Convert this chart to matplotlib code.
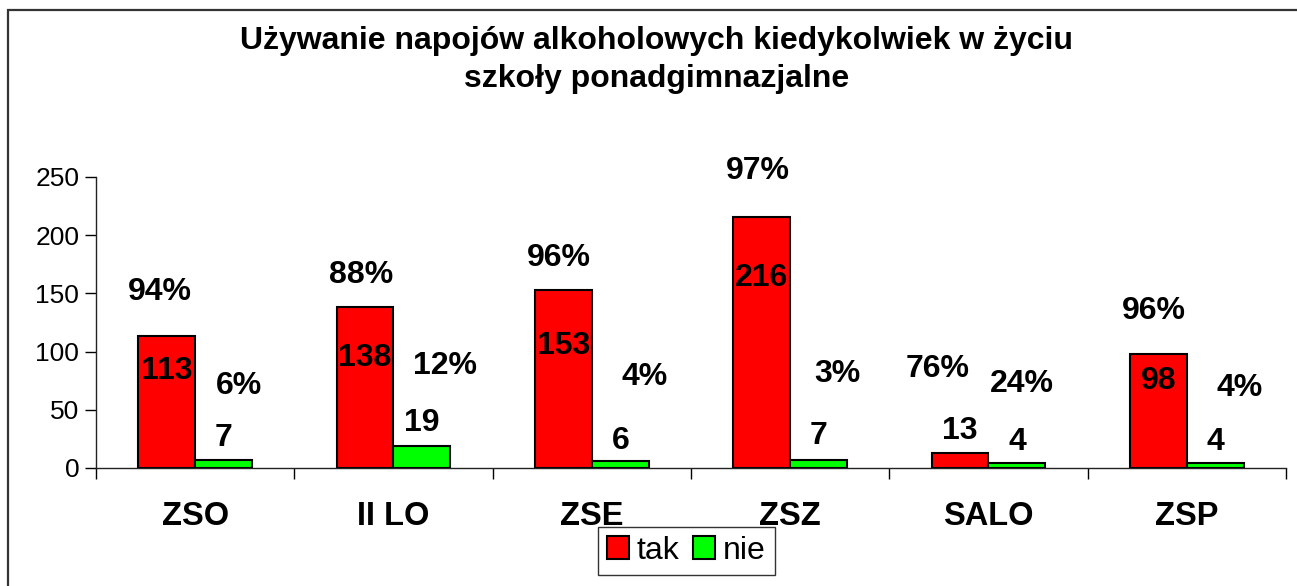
import numpy as np
import matplotlib.pyplot as plt
from matplotlib.patches import Rectangle

# ==========================================================
# Dane
# ==========================================================

szkoly = ["ZSO", "II LO", "ZSE", "ZSZ", "SALO", "ZSP"]
tak = [113, 138, 153, 216, 13, 98]
nie = [7, 19, 6, 7, 4, 4]
proc_tak = ["94%", "88%", "96%", "97%", "76%", "96%"]
proc_nie = ["6%", "12%", "4%", "3%", "24%", "4%"]

y_lab_tak = [83, 94.5, 104.5, 163.5, 32, 74.5]
y_lab_nie = [26, 39, 23, 27.5, 22.5, 22.5]
x_proc_tak = [-0.180, 0.838, 1.833, 2.838, 3.742, 4.835]
y_proc_tak = [151, 166, 180, 255, 85, 135]
x_proc_nie = [0.223, 1.261, 2.268, 3.238, 4.170, 5.266]
y_proc_nie = [70.5, 87.5, 78.5, 81, 72.5, 68.5]

plt.rcParams["font.family"] = ["Liberation Sans", "DejaVu Sans"]

fig = plt.figure(figsize=(12.97, 5.86), dpi=100)
ax = fig.add_axes([0.074, 0.2014, 0.9175, 0.4966])

x = np.arange(len(szkoly))
w = 0.287

ax.bar(x - w / 2, tak, w, color="#ff0000", edgecolor="black",
       linewidth=1.5, label="tak")
ax.bar(x + w / 2, nie, w, color="#00ff00", edgecolor="black",
       linewidth=1.5, label="nie")

fs = 23
for i in range(len(szkoly)):
    ax.text(x[i] - w / 2, y_lab_tak[i], str(tak[i]), ha="center",
            va="center", fontsize=fs, fontweight="bold")
    ax.text(x[i] + w / 2, y_lab_nie[i], str(nie[i]), ha="center",
            va="center", fontsize=fs, fontweight="bold")
    ax.text(x_proc_tak[i], y_proc_tak[i], proc_tak[i], ha="center",
            va="center", fontsize=fs, fontweight="bold")
    ax.text(x_proc_nie[i], y_proc_nie[i], proc_nie[i], ha="center",
            va="center", fontsize=fs, fontweight="bold")

ax.set_xlim(-0.5, len(szkoly) - 0.5)
ax.set_ylim(0, 250)
ax.set_yticks(np.arange(0, 251, 50))
ax.tick_params(axis="y", labelsize=19, length=8, width=1, direction="out",
               pad=4)

ax.set_xticks(x)
ax.set_xticklabels(szkoly, fontsize=23.5, fontweight="bold")
ax.tick_params(axis="x", which="major", length=0, pad=24)
ax.set_xticks(np.arange(-0.5, len(szkoly)), minor=True)
ax.tick_params(axis="x", which="minor", length=8, width=1, direction="out")

for s in ["top", "right"]:
    ax.spines[s].set_visible(False)
for s in ["left", "bottom"]:
    ax.spines[s].set_color("#222222")
    ax.spines[s].set_linewidth(1)

fig.text(0.506, 0.930, "Używanie napojów alkoholowych kiedykolwiek w życiu",
         ha="center", va="center", fontsize=23, fontweight="bold")
fig.text(0.506, 0.865, "szkoły ponadgimnazjalne",
         ha="center", va="center", fontsize=23, fontweight="bold")

leg = ax.legend(loc="center", bbox_to_anchor=(0.529, 0.06),
                bbox_transform=fig.transFigure, ncol=2, fontsize=23,
                frameon=True, fancybox=False, handlelength=0.7,
                handleheight=0.7, handletextpad=0.25, columnspacing=0.4,
                borderpad=0.28, borderaxespad=0)
leg.get_frame().set_edgecolor("black")
leg.get_frame().set_linewidth(1)

# ramka wykresu
fig.patches.append(Rectangle((0.0062, -0.1), 1.2, 1.083, fill=False,
                             edgecolor="#333333", linewidth=1.6,
                             transform=fig.transFigure))

fig.savefig("out.png", dpi=100)
